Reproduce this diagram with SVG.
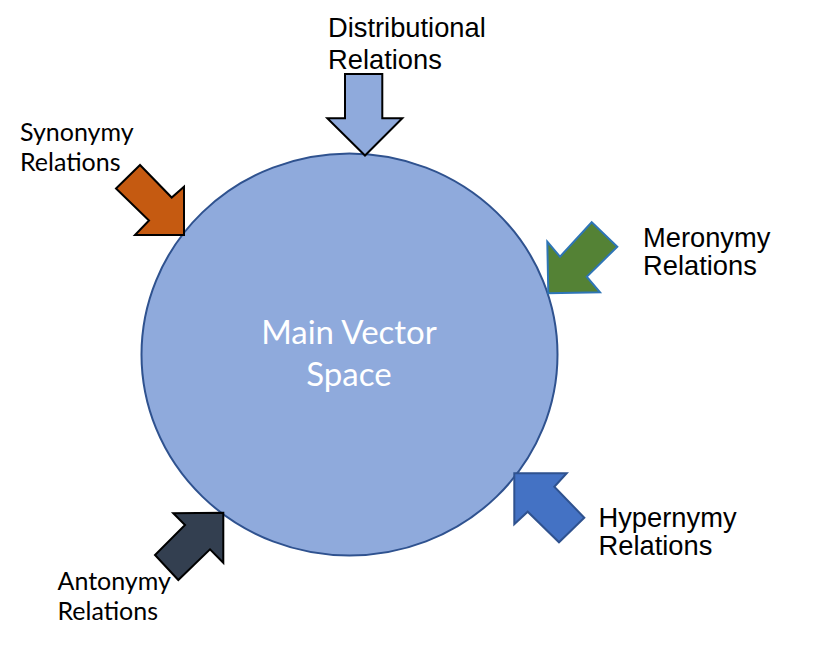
<svg xmlns="http://www.w3.org/2000/svg" width="814" height="650" viewBox="0 0 814 650">
<style>
.h{font-family:"Liberation Sans",Arial,sans-serif;font-size:27.3px;fill:#000}
.c{font-family:Lato,"Open Sans",sans-serif;font-size:25px;fill:#000}
.m{font-family:Lato,"Open Sans",sans-serif;font-size:33px;fill:#fff;text-anchor:middle}
.a{stroke-width:2;stroke-linejoin:miter}
</style>
<rect width="814" height="650" fill="#fff"/>
<g id="main">
<ellipse cx="349.5" cy="354.5" rx="208" ry="201" fill="#8FAADC" stroke="#2F528F" stroke-width="2"/>
<text class="m" x="349" y="344">Main Vector</text>
<text class="m" x="349" y="386">Space</text>
</g>
<g id="connectors">
<polygon class="a" points="345,74 382.3,74 382.3,118.3 402.3,118.3 365,155.5 327.3,118.3 345,118.3" fill="#8FAADC" stroke="#000"/>
<polygon class="a" points="140,165 116,188.5 149,220.5 135,235 184,235 184,186.7 171.7,197.5" fill="#C55A11" stroke="#000"/>
<polygon class="a" points="547.3,241.7 560,256.7 591.7,222.3 617.3,246.7 586.7,276.7 600,292.3 548.3,293.3" fill="#548235" stroke="#2E75B6"/>
<polygon class="a" points="514.3,473.3 566.7,473.3 554.3,486.7 584.3,517.7 559,542.3 527.7,511.7 514.3,524.3" fill="#4472C4" stroke="#2F528F"/>
<polygon class="a" points="173.3,513.3 185,525 155,555 178.3,580 210,549.3 223.3,562.7 223.3,512.7" fill="#333F50" stroke="#000"/>
</g>
<g id="distributional">
<text class="h" x="328" y="37">Distributional</text>
<text class="h" x="328" y="68.5">Relations</text>
</g>
<g id="synonymy">
<text class="c" x="20" y="141">Synonymy</text>
<text class="c" x="20" y="171">Relations</text>
</g>
<g id="meronymy">
<text class="h" x="643" y="246.5">Meronymy</text>
<text class="h" x="643" y="275">Relations</text>
</g>
<g id="hypernymy">
<text class="h" x="598.5" y="526.5">Hypernymy</text>
<text class="h" x="598.5" y="555">Relations</text>
</g>
<g id="antonymy">
<text class="c" x="57.5" y="590">Antonymy</text>
<text class="c" x="57.5" y="620">Relations</text>
</g>
</svg>
